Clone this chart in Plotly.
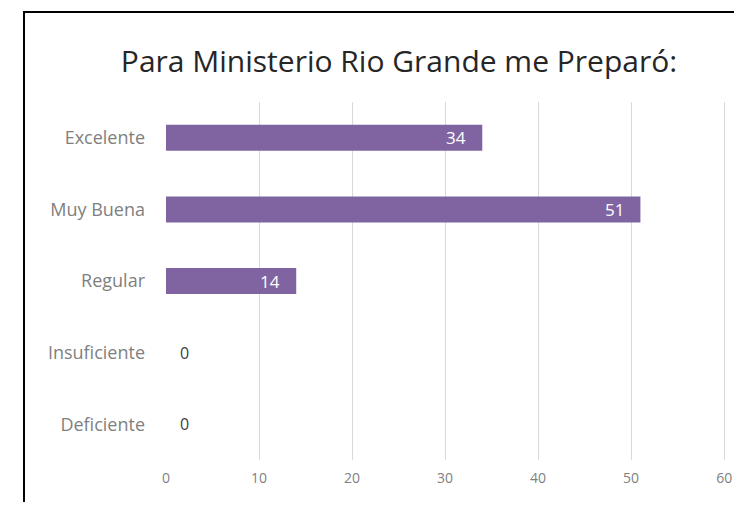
import plotly.graph_objects as go

categories = ["Excelente", "Muy Buena", "Regular", "Insuficiente", "Deficiente"]
values = [34, 51, 14, 0, 0]
x_ticks = [0, 10, 20, 30, 40, 50, 60]
title_text = "Para Ministerio Rio Grande me Preparó:"

BAR_COLOR = "#8064A2"
FONT = "Open Sans, Calibri, sans-serif"

# page body has an 8px margin; figure is sized so the page does not scroll
OFF = 8
W, H = 742 - 2 * OFF, 510 - 2 * OFF
XMAX = 60.2
PL, PT, PB = 166, 102, 460          # plot area edges in screen pixels
PX60 = 724                           # screen x of the 60 gridline
pw = round((PX60 - PL) * XMAX / 60)
ml, mt = PL - OFF, PT - OFF
ph = PB - PT

fig = go.Figure()
fig.add_trace(go.Bar(
    x=values, y=categories, orientation="h",
    marker=dict(color=BAR_COLOR, line=dict(width=0)),
    hoverinfo="skip",
))

annotations = []
for c, v in zip(categories, values):
    if v > 0:
        annotations.append(dict(x=v, y=c, xref="x", yref="y", text=str(v),
                                showarrow=False, xanchor="right", xshift=-14,
                                font=dict(family=FONT, size=17, color="white")))
    else:
        annotations.append(dict(x=v, y=c, xref="x", yref="y", text=str(v),
                                showarrow=False, xanchor="left", xshift=12,
                                font=dict(family=FONT, size=16, color="#404040")))

fig.update_layout(
    width=W, height=H,
    margin=dict(l=ml, r=W - ml - pw, t=mt, b=H - mt - ph, autoexpand=False),
    paper_bgcolor="white", plot_bgcolor="white",
    bargap=0.637,
    showlegend=False,
    title=dict(text=title_text, x=(399 - PL) / pw, xanchor="center",
               y=1 - (61 - OFF) / H, yanchor="middle",
               xref="paper", yref="container",
               font=dict(family=FONT, size=30, color="#262626")),
    xaxis=dict(range=[0, XMAX], tickvals=x_ticks, showgrid=True, gridcolor="#D9D9D9",
               gridwidth=1, zeroline=False, showline=False, automargin=False,
               tickfont=dict(family=FONT, size=14, color="#7F7F7F"),
               ticklabelstandoff=8, ticklabeloverflow="allow", fixedrange=True),
    yaxis=dict(categoryorder="array", categoryarray=categories[::-1],
               showgrid=False, zeroline=False, showline=False, automargin=False,
               tickfont=dict(family=FONT, size=18, color="#7F7F7F"),
               ticklabelstandoff=20, fixedrange=True),
    annotations=annotations,
    shapes=[dict(type="rect", xref="paper", yref="paper",
                 x0=(24 - PL) / pw, x1=1.1, y0=-0.3, y1=1 + (PT - 12) / ph,
                 line=dict(color="black", width=2), fillcolor="rgba(0,0,0,0)",
                 layer="above")],
)

fig.write_html("out.html")
